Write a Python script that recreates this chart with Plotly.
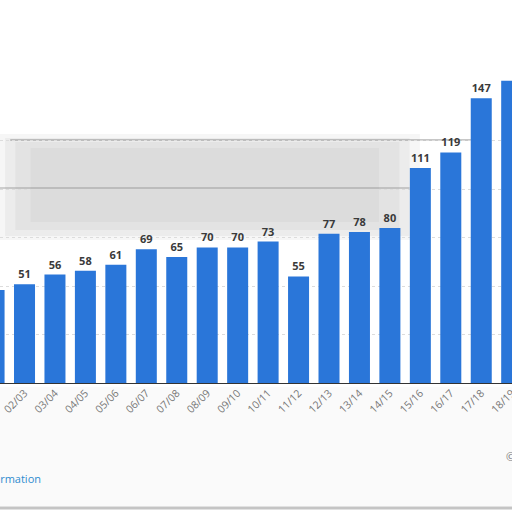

# Imports
import plotly.graph_objects as go

# Data
seasons = ["01/02", "02/03", "03/04", "04/05", "05/06", "06/07", "07/08", "08/09", "09/10",
           "10/11", "11/12", "12/13", "13/14", "14/15", "15/16", "16/17", "17/18", "18/19"]
values = [48, 51, 56, 58, 61, 69, 65, 70, 70, 73, 55, 77, 78, 80, 111, 119, 147, 156]
# last label is hidden in the source picture
labels = [str(v) for v in values[:-1]] + [""]
grid_ticks = [0, 25, 50, 75, 100, 125]

BLUE = "#2a76d9"

fig = go.Figure()
fig.add_trace(go.Bar(x=list(range(len(seasons))), y=values, width=0.69,
                     marker=dict(color=BLUE, line=dict(width=0)),
                     text=labels, textposition="outside", cliponaxis=False,
                     textfont=dict(family="Open Sans", size=11, color="#3a3a3a", weight="bold")))

fig.update_layout(width=512, height=512, margin=dict(l=0, r=0, t=0, b=129, autoexpand=False),
                  paper_bgcolor="white", plot_bgcolor="white",
                  showlegend=False, bargap=0.31)

fig.update_xaxes(range=[0.195, 17.01], tickmode="array", automargin=False,
                 tickvals=list(range(len(seasons))), ticktext=seasons,
                 tickangle=-45, tickfont=dict(family="Open Sans", size=10.5, color="#777"),
                 ticklabeloverflow="allow", ticklabelshift=0, ticklabelstandoff=-1,
                 showline=True, linecolor="#333", linewidth=1, showgrid=False, ticks="")
fig.update_yaxes(range=[0, 197.7], tickvals=grid_ticks, showticklabels=False, automargin=False,
                 showgrid=True, gridcolor="#dcdcdc", griddash="dot", zeroline=False)

# blurred grey band from the screenshot (stacked soft rectangles)
band = [(0.00, 0.82, 134, 240, 0.07), (0.01, 0.80, 138, 236, 0.08),
        (0.03, 0.78, 142, 230, 0.08), (0.06, 0.74, 148, 222, 0.07)]
for x0, x1, top, bot, op in band:
    fig.add_shape(type="rect", xref="paper", yref="paper", x0=x0, x1=x1,
                  y0=1 - bot / 383, y1=1 - top / 383,
                  fillcolor=f"rgba(130,130,130,{op})", line_width=0, layer="below")
fig.add_shape(type="line", xref="paper", yref="paper", x0=0.02, x1=0.92, y0=1 - 140 / 383, y1=1 - 140 / 383,
              line=dict(color="rgba(130,130,130,0.45)", width=2), layer="below")
fig.add_shape(type="line", xref="paper", yref="paper", x0=0, x1=0.8, y0=1 - 188 / 383, y1=1 - 188 / 383,
              line=dict(color="rgba(130,130,130,0.35)", width=2), layer="below")

# footer
fig.add_shape(type="rect", xref="paper", yref="paper", x0=0, x1=1, y0=-123 / 383, y1=-4 / 383,
              fillcolor="#fafafa", line_width=0, layer="below")
fig.add_shape(type="line", xref="paper", yref="paper", x0=0, x1=1, y0=-125 / 383, y1=-125 / 383,
              line=dict(color="#c4c4c4", width=3))
fig.add_annotation(text="Additional Information", xref="paper", yref="paper",
                   x=43 / 512, y=-(479 - 383) / 383, xanchor="right", yanchor="middle",
                   showarrow=False, font=dict(family="Open Sans", size=11, color="#2f8ccf"))
fig.add_annotation(text="© Statista 2019", xref="paper", yref="paper",
                   x=504 / 512, y=-(456 - 383) / 383, xanchor="left", yanchor="middle",
                   showarrow=False, font=dict(family="Open Sans", size=11, color="#777"))

# the page's default body margin would shift the figure by 8px
fig.write_html("out.html", config={"displayModeBar": False},
               post_script="document.body.style.margin='0';")
